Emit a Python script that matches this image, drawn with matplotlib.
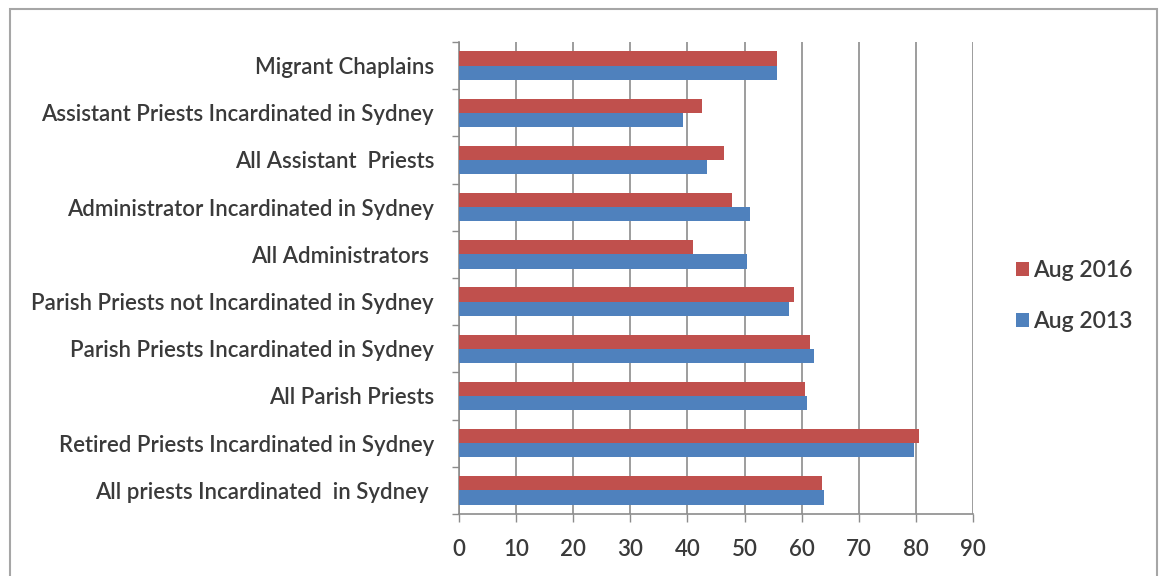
import matplotlib
matplotlib.use("Agg")
import matplotlib.pyplot as plt
from matplotlib.patches import Rectangle, Patch
import numpy as np

plt.rcParams['font.family'] = ['Lato', 'DejaVu Sans']
plt.rcParams['font.weight'] = 'semibold'

categories = [
    "All priests Incardinated  in Sydney ",
    "Retired Priests Incardinated in Sydney",
    "All Parish Priests",
    "Parish Priests Incardinated in Sydney",
    "Parish Priests not Incardinated in Sydney",
    "All Administrators ",
    "Administrator Incardinated in Sydney",
    "All Assistant  Priests",
    "Assistant Priests Incardinated in Sydney",
    "Migrant Chaplains",
]
aug_2016 = [63.5, 80.6, 60.6, 61.5, 58.7, 40.9, 47.8, 46.4, 42.6, 55.7]
aug_2013 = [63.9, 79.6, 61.0, 62.2, 57.7, 50.5, 51.0, 43.5, 39.3, 55.7]
x_ticks = [0, 10, 20, 30, 40, 50, 60, 70, 80, 90]

RED = "#C0504D"
BLUE = "#4F81BD"
TEXT = "#3A3A3A"
GRID = "#8C8C8C"

fig = plt.figure(figsize=(11.6, 5.76), dpi=100)
fig.patch.set_facecolor("white")

# outer chart frame
fig.patches.append(Rectangle((10 / 1160, -0.01), 1147 / 1160, 1 - 9 / 576 + 0.01,
                             transform=fig.transFigure, fill=False,
                             edgecolor="#A6A6A6", linewidth=1.5, zorder=0))

ax = fig.add_axes([459 / 1160, 1 - 514 / 576, (973 - 459) / 1160, (514 - 42) / 576])

y = np.arange(len(categories))
h = 0.3
ax.barh(y + h / 2, aug_2016, height=h, color=RED, label="Aug 2016", zorder=3)
ax.barh(y - h / 2, aug_2013, height=h, color=BLUE, label="Aug 2013", zorder=3)

ax.set_xlim(0, 90)
ax.set_ylim(-0.5, len(categories) - 0.5)
ax.set_xticks(x_ticks)
ax.set_xticklabels([str(t) for t in x_ticks], fontsize=16, color=TEXT)
ax.set_yticks(y)
ax.set_yticklabels(categories, fontsize=16, color=TEXT)
ax.tick_params(axis="y", length=0, pad=18)
ax.tick_params(axis="x", length=6, width=1, color=GRID, pad=12)

# category boundary ticks on the value axis
ax.set_yticks(np.arange(-0.5, len(categories), 1.0), minor=True)
ax.tick_params(axis="y", which="minor", length=5, width=1, color=GRID)

ax.grid(axis="x", color=GRID, linewidth=1.2, zorder=0)
for s in ["top", "right"]:
    ax.spines[s].set_visible(False)
ax.spines["left"].set_color(GRID)
ax.spines["bottom"].set_color(GRID)
ax.spines["left"].set_linewidth(1.2)
ax.spines["bottom"].set_linewidth(1.2)

handles = [Patch(facecolor=RED, label="Aug 2016"), Patch(facecolor=BLUE, label="Aug 2013")]
fig.legend(handles=handles, loc="center left", bbox_to_anchor=(995 / 1160, 1 - 296 / 576),
           frameon=False, prop={"size": 16.5, "weight": "semibold"}, handlelength=0.6,
           handleheight=0.6, handletextpad=0.15, labelspacing=1.3, labelcolor=TEXT)

fig.savefig("out.png", dpi=100, facecolor="white")
